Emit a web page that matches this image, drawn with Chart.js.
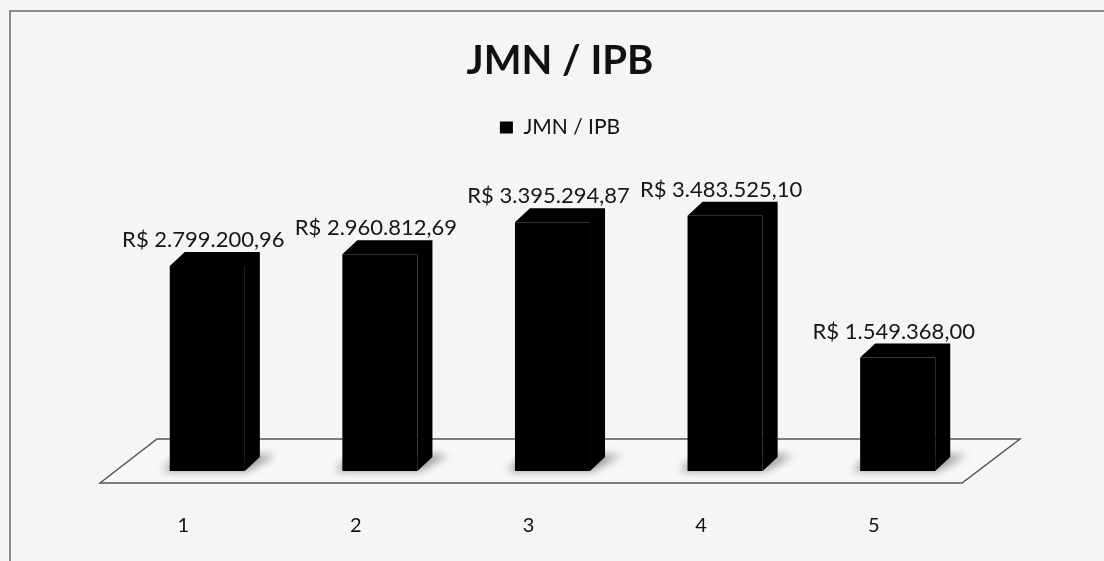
<!DOCTYPE html>
<html lang="pt">
<head>
<meta charset="utf-8">
<title>JMN / IPB</title>
<script src="https://cdn.jsdelivr.net/npm/chart.js@4"></script>
<style>
  html, body { margin: 0; padding: 0; background: #f5f5f4; }
  canvas { display: block; }
</style>
</head>
<body>
<canvas id="chart" width="1104" height="561"></canvas>
<script>
// data
var categories = ['1', '2', '3', '4', '5'];
var values = [2799200.96, 2960812.69, 3395294.87, 3483525.10, 1549368.00];
var seriesName = 'JMN / IPB';

var FONT = 'Lato, "Open Sans", sans-serif';
var DEPTH_X = 15, DEPTH_Y = 14;

function brl(v) {
  var parts = v.toFixed(2).split('.');
  var whole = parts[0].replace(/\B(?=(\d{3})+(?!\d))/g, '.');
  return 'R$ ' + whole + ',' + parts[1];
}

// paper background and the scanned frame
var paper = {
  id: 'paper',
  beforeDraw: function(chart) {
    var ctx = chart.ctx;
    ctx.save();
    ctx.fillStyle = '#f5f5f4';
    ctx.fillRect(0, 0, chart.width, chart.height);
    ctx.strokeStyle = '#8a8a8a';
    ctx.lineWidth = 2;
    ctx.strokeRect(10, 11, chart.width + 20, chart.height + 20);
    ctx.restore();
  }
};

// floor plane and bar shadows
var floor = {
  id: 'floor',
  beforeDatasetsDraw: function(chart) {
    var ctx = chart.ctx, a = chart.chartArea;
    var y0 = chart.scales.y.getPixelForValue(0);
    var front = y0 + 12, back = y0 - 32;
    ctx.save();
    ctx.beginPath();
    ctx.moveTo(a.left - 21, front);
    ctx.lineTo(a.left + 36, back);
    ctx.lineTo(a.right + 36, back);
    ctx.lineTo(a.right - 22, front);
    ctx.closePath();
    ctx.fillStyle = '#f8f8f7';
    ctx.fill();
    ctx.strokeStyle = '#555';
    ctx.lineWidth = 1.5;
    ctx.stroke();

    ctx.filter = 'blur(4px)';
    ctx.fillStyle = 'rgba(0,0,0,0.4)';
    chart.getDatasetMeta(0).data.forEach(function(bar) {
      var x0 = bar.x - bar.width / 2, x1 = bar.x + bar.width / 2, b = bar.base;
      ctx.beginPath();
      ctx.moveTo(x0 - 8, b);
      ctx.lineTo(x1 + 2, b);
      ctx.lineTo(x1 + DEPTH_X + 16, b - DEPTH_Y - 2);
      ctx.lineTo(x0 + 10, b - DEPTH_Y - 2);
      ctx.closePath();
      ctx.fill();
    });
    ctx.restore();
  }
};

// top and side faces, then the value labels
var extrude = {
  id: 'extrude',
  afterDatasetsDraw: function(chart) {
    var ctx = chart.ctx;
    ctx.save();
    chart.getDatasetMeta(0).data.forEach(function(bar, i) {
      var x0 = bar.x - bar.width / 2, x1 = bar.x + bar.width / 2;
      var t = bar.y, b = bar.base;
      ctx.fillStyle = '#000';
      ctx.beginPath();
      ctx.moveTo(x0, t);
      ctx.lineTo(x0 + DEPTH_X, t - DEPTH_Y);
      ctx.lineTo(x1 + DEPTH_X, t - DEPTH_Y);
      ctx.lineTo(x1 + DEPTH_X, b - DEPTH_Y);
      ctx.lineTo(x1, b);
      ctx.lineTo(x1, t);
      ctx.closePath();
      ctx.fill();

      ctx.font = '22px ' + FONT;
      ctx.fillStyle = '#161616';
      ctx.textAlign = 'center';
      ctx.textBaseline = 'middle';
      ctx.fillText(brl(values[i]), bar.x - 4, t - 26);
    });
    ctx.restore();
  }
};

new Chart(document.getElementById('chart'), {
  type: 'bar',
  data: {
    labels: categories,
    datasets: [{
      label: seriesName,
      data: values,
      backgroundColor: '#000',
      borderWidth: 0,
      barPercentage: 0.435,
      categoryPercentage: 1
    }]
  },
  options: {
    responsive: false,
    animation: false,
    layout: { padding: { left: 16, right: 0, top: 0, bottom: 0 } },
    plugins: {
      title: {
        display: true,
        text: 'JMN / IPB',
        color: '#111',
        font: { family: FONT, size: 40, weight: 'bold' },
        padding: { top: 37, bottom: 22 }
      },
      legend: {
        display: true,
        labels: {
          color: '#111',
          font: { family: FONT, size: 21 },
          boxWidth: 13,
          boxHeight: 12
        }
      },
      tooltip: { enabled: false }
    },
    scales: {
      x: {
        grid: { display: false },
        border: { display: false },
        ticks: {
          color: '#111',
          font: { family: FONT, size: 20 },
          padding: 35,
          labelOffset: -24
        },
        afterFit: function(scale) { scale.height = 90; }
      },
      y: {
        position: 'left',
        min: 0,
        max: 4410000,
        grid: { display: false },
        border: { display: false },
        ticks: { display: false },
        afterFit: function(scale) { scale.width = 105; }
      },
      spacer: {
        type: 'linear',
        position: 'right',
        grid: { display: false },
        border: { display: false },
        ticks: { display: false },
        afterFit: function(scale) { scale.width = 120; }
      }
    }
  },
  plugins: [paper, floor, extrude]
});
</script>
</body>
</html>
